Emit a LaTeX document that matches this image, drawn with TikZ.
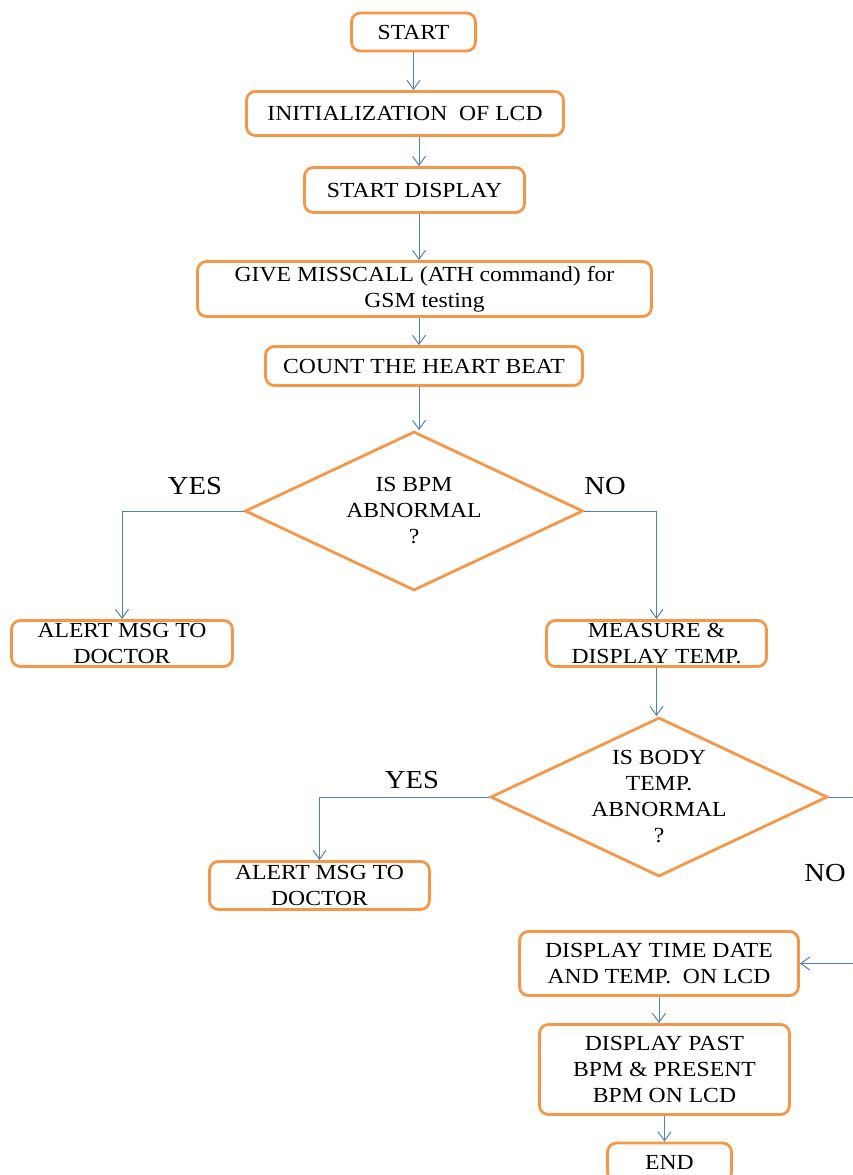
\documentclass[tikz,border=0pt]{standalone}
\usepackage{fontspec}
\setmainfont{Liberation Serif}[FakeStretch=1.1]
\usetikzlibrary{shapes.geometric,arrows.meta,calc}
\definecolor{boxorange}{HTML}{F79646}
\definecolor{lineblue}{HTML}{4F81BD}
\begin{document}
\begin{tikzpicture}[x=1pt,y=-1pt,
  box/.style={draw=boxorange, line width=2.8pt, rounded corners=9pt, fill=white,
    align=center, inner sep=2pt, font=\fontsize{21.5}{26}\selectfont, text=black},
  dia/.style={draw=boxorange, line width=2.8pt, diamond, inner sep=0pt, fill=white},
  dtext/.style={align=center, inner sep=0pt, font=\fontsize{21.5}{26}\selectfont},
  lbl/.style={inner sep=0pt, font=\fontsize{26}{30}\selectfont},
  arr/.style={draw=lineblue, line width=1pt, -{Straight Barb[length=9pt,width=13pt,line width=1pt]}}]
\useasboundingbox (0,0) rectangle (852,1175);

\node[box, minimum width=124, minimum height=38] (start) at (413.5,32) {START};
\node[box, minimum width=317, minimum height=44] (init) at (405,113.5) {INITIALIZATION\ \ OF LCD};
\node[box, minimum width=220, minimum height=45] (disp) at (414.5,190) {START DISPLAY};
\node[box, minimum width=454, minimum height=55] (gsm) at (424.5,289) {GIVE MISSCALL (ATH command) for\\GSM testing};
\node[box, minimum width=317, minimum height=39] (count) at (424,366) {COUNT THE HEART BEAT};

\node[dia, minimum width=338, minimum height=159] (d1) at (414,511) {};
\node[dtext] (d1t) at (414,511) {IS BPM\\ABNORMAL\\?};

\node[box, minimum width=221, minimum height=46] (alert1) at (122,643.5) {ALERT MSG TO\\DOCTOR};
\node[box, minimum width=220, minimum height=46] (measure) at (656.5,643.5) {MEASURE \&\\DISPLAY TEMP.};

\node[dia, minimum width=337, minimum height=159] (d2) at (659,797) {};
\node[dtext] (d2t) at (659,797) {IS BODY\\TEMP.\\ABNORMAL\\?};

\node[box, minimum width=220, minimum height=48] (alert2) at (319.5,885.5) {ALERT MSG TO\\DOCTOR};
\node[box, minimum width=279, minimum height=64] (dtime) at (659,963.5) {DISPLAY TIME DATE\\AND TEMP.\ \ ON LCD};
\node[box, minimum width=250, minimum height=90] (dpast) at (664.5,1069.5) {DISPLAY PAST\\BPM \& PRESENT\\BPM ON LCD};
\node[box, minimum width=124, minimum height=38] (end) at (669.5,1162) {END};

\node[lbl] (yes1) at (195,486) {YES};
\node[lbl] (no1) at (605,486) {NO};
\node[lbl] (yes2) at (412,780) {YES};
\node[lbl] (no2) at (825,873) {NO};

\coordinate (ax) at (419,0);
\coordinate (rt) at (880,797);

\draw[arr] (start.south) -- (start.south |- init.north);
\draw[arr] (init.south -| ax) -- (disp.north -| ax);
\draw[arr] (disp.south -| ax) -- (gsm.north -| ax);
\draw[arr] (gsm.south -| ax) -- (count.north -| ax);
\draw[arr] (count.south -| ax) -- (d1.north -| ax);
\draw[arr] (d1.west) -| (alert1.north);
\draw[arr] (d1.east) -| (measure.north);
\draw[arr] (measure.south) -- (measure.south |- d2.north);
\draw[arr] (d2.west) -| (alert2.north);
\draw[arr] (d2.east) -- (rt) |- (dtime.east);
\draw[arr] (dtime.south) -- (dtime.south |- dpast.north);
\draw[arr] (dpast.south) -- (dpast.south |- end.north);
\end{tikzpicture}
\end{document}
